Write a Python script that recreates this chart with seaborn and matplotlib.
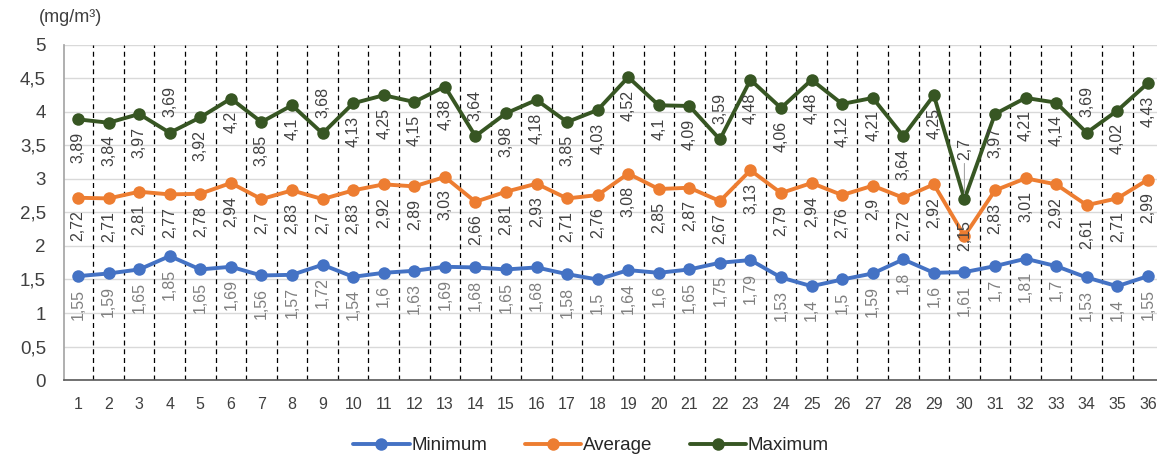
import matplotlib
matplotlib.use("Agg")
import matplotlib.pyplot as plt
import seaborn as sns
import pandas as pd
import numpy as np
from matplotlib.ticker import FuncFormatter, MultipleLocator

days = list(range(1, 37))
minimum = [1.55, 1.59, 1.65, 1.85, 1.65, 1.69, 1.56, 1.57, 1.72, 1.54, 1.6, 1.63, 1.69, 1.68, 1.65, 1.68, 1.58, 1.5,
           1.64, 1.6, 1.65, 1.75, 1.79, 1.53, 1.4, 1.5, 1.59, 1.8, 1.6, 1.61, 1.7, 1.81, 1.7, 1.53, 1.4, 1.55]
average = [2.72, 2.71, 2.81, 2.77, 2.78, 2.94, 2.7, 2.83, 2.7, 2.83, 2.92, 2.89, 3.03, 2.66, 2.81, 2.93, 2.71, 2.76,
           3.08, 2.85, 2.87, 2.67, 3.13, 2.79, 2.94, 2.76, 2.9, 2.72, 2.92, 2.15, 2.83, 3.01, 2.92, 2.61, 2.71, 2.99]
maximum = [3.89, 3.84, 3.97, 3.69, 3.92, 4.2, 3.85, 4.1, 3.68, 4.13, 4.25, 4.15, 4.38, 3.64, 3.98, 4.18, 3.85, 4.03,
           4.52, 4.1, 4.09, 3.59, 4.48, 4.06, 4.48, 4.12, 4.21, 3.64, 4.25, 2.7, 3.97, 4.21, 4.14, 3.69, 4.02, 4.43]
series_names = ["Minimum", "Average", "Maximum"]
colors = {"Minimum": "#4472C4", "Average": "#ED7D31", "Maximum": "#375623"}
label_colors = {"Minimum": "#7F7F7F", "Average": "#404040", "Maximum": "#404040"}
max_above = {4, 9, 14, 22, 34}

df = pd.concat([
    pd.DataFrame({"day": days, "value": minimum, "series": "Minimum"}),
    pd.DataFrame({"day": days, "value": average, "series": "Average"}),
    pd.DataFrame({"day": days, "value": maximum, "series": "Maximum"}),
])

sns.set_theme(style="white")
plt.rcParams["font.family"] = ["Liberation Sans", "DejaVu Sans"]

fig = plt.figure(figsize=(11.57, 4.61), dpi=100)
ax = fig.add_axes([0.0553, 0.1757, 0.9447, 0.7267])

sns.lineplot(data=df, x="day", y="value", hue="series", hue_order=series_names,
             palette=colors, marker="o", markersize=9, markeredgewidth=0,
             linewidth=2.8, ax=ax, legend=True)

ax.set_xlim(0.54, 36.3)
ax.set_ylim(0, 5)
ax.yaxis.set_major_locator(MultipleLocator(0.5))
ax.yaxis.set_major_formatter(FuncFormatter(lambda v, p: ("%g" % v).replace(".", ",")))
ax.set_xticks(days)
ax.set_xticklabels([str(d) for d in days], fontsize=11.5, color="#404040")
ax.tick_params(axis="y", labelsize=13.5, labelcolor="#404040", length=0, pad=13)
ax.tick_params(axis="x", length=0, pad=12)
ax.set_xlabel("")
ax.set_ylabel("")
ax.grid(axis="y", color="#D9D9D9", linewidth=1)
ax.set_axisbelow(True)
for b in np.arange(1.5, 36.5, 1.0):
    ax.axvline(b, color="black", linestyle=(0, (4, 3)), linewidth=0.9, zorder=1)
for s in ["top", "right"]:
    ax.spines[s].set_visible(False)
ax.spines["left"].set_color("#A6A6A6")
ax.spines["bottom"].set_color("#595959")
ax.spines["bottom"].set_linewidth(1.2)

def fmt(v):
    return ("%g" % v).replace(".", ",")

for name, vals in zip(series_names, [minimum, average, maximum]):
    for d, v in zip(days, vals):
        arrow = None
        if name == "Maximum" and d in max_above:
            off, va = 11, "bottom"
        elif name == "Maximum" and d == 30:
            off, va = 28, "bottom"
            arrow = dict(arrowstyle="-", color="#A6A6A6", lw=0.8, shrinkA=0, shrinkB=4)
        elif name == "Average" and d == 30:
            off, va = 0, "center"
        else:
            off, va = -9, "top"
        ax.annotate(fmt(v), (d, v), xytext=(0, off), textcoords="offset points",
                    rotation=90, ha="center", va=va, fontsize=11.5,
                    color=label_colors[name], zorder=5, arrowprops=arrow)

handles, labels = ax.get_legend_handles_labels()
ax.legend_.remove()
fig.legend(handles, labels, loc="center", bbox_to_anchor=(0.511, 0.033), ncol=3, frameon=False,
           fontsize=13.5, handlelength=3.0, columnspacing=2.0, handletextpad=0.1)

fig.text(0.034, 0.962, "(mg/m³)", fontsize=13, color="#404040", ha="left", va="center")

fig.savefig("out.png", dpi=100)
